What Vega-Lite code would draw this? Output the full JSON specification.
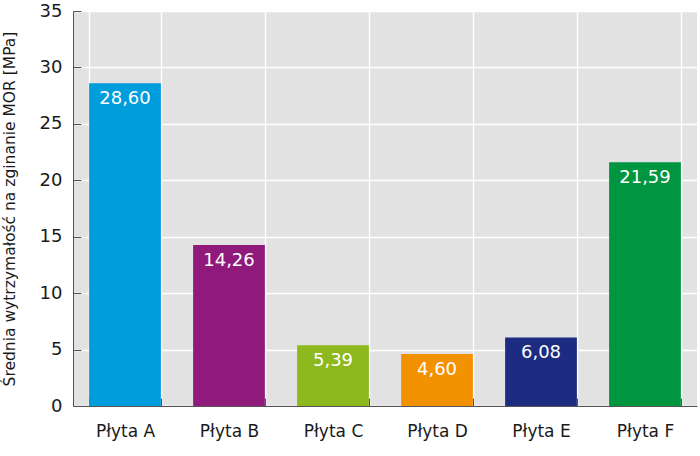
{
  "$schema": "https://vega.github.io/schema/vega-lite/v6.json",
  "width": 624,
  "height": 395,
  "autosize": "none",
  "padding": {"left": 73, "top": 11, "right": 3, "bottom": 50},
  "background": "white",
  "config": {
    "locale": {"number": {"decimal": ",", "thousands": " ", "grouping": [3], "currency": ["", " zł"]}},
    "view": {"fill": "#e1e2e1", "stroke": null},
    "font": "DejaVu Sans"
  },
  "data": {
    "values": [
      {"plyta": "Płyta A", "mor": 28.60, "kolor": "#009ddc"},
      {"plyta": "Płyta B", "mor": 14.26, "kolor": "#8f1a7c"},
      {"plyta": "Płyta C", "mor": 5.39, "kolor": "#8db91f"},
      {"plyta": "Płyta D", "mor": 4.60, "kolor": "#f39200"},
      {"plyta": "Płyta E", "mor": 6.08, "kolor": "#1d2c80"},
      {"plyta": "Płyta F", "mor": 21.59, "kolor": "#009640"}
    ]
  },
  "encoding": {
    "x": {
      "field": "plyta",
      "type": "nominal",
      "sort": null,
      "scale": {"paddingInner": 0.31, "paddingOuter": 0.155},
      "axis": {
        "title": null,
        "labelAngle": 0,
        "labelFontSize": 17,
        "labelColor": "#1a1a1a",
        "labelPadding": 25,
        "tickBand": "extent",
        "tickSize": -8,
        "tickColor": "#555555",
        "domainColor": "#555555",
        "grid": true,
        "gridColor": "#ffffff",
        "gridWidth": 1.5,
        "gridOpacity": 1
      }
    },
    "y": {
      "field": "mor",
      "type": "quantitative",
      "scale": {"domain": [0, 35], "nice": false},
      "axis": {
        "title": "Średnia wytrzymałość na zginanie MOR [MPa]",
        "titleFontSize": 15.5,
        "titleFontWeight": "normal",
        "titleColor": "#1a1a1a",
        "titlePadding": 22,
        "values": [0, 5, 10, 15, 20, 25, 30, 35],
        "labelFontSize": 18,
        "labelColor": "#1a1a1a",
        "labelPadding": 19,
        "tickSize": -8,
        "tickColor": "#555555",
        "domainColor": "#555555",
        "grid": true,
        "gridColor": "#ffffff",
        "gridWidth": 1.5,
        "gridOpacity": 1
      }
    }
  },
  "layer": [
    {
      "mark": {"type": "bar"},
      "encoding": {
        "color": {"field": "kolor", "type": "nominal", "scale": null}
      }
    },
    {
      "mark": {"type": "text", "baseline": "top", "dy": 7, "color": "white", "fontSize": 18},
      "encoding": {
        "text": {"field": "mor", "type": "quantitative", "format": ".2f"}
      }
    }
  ]
}
